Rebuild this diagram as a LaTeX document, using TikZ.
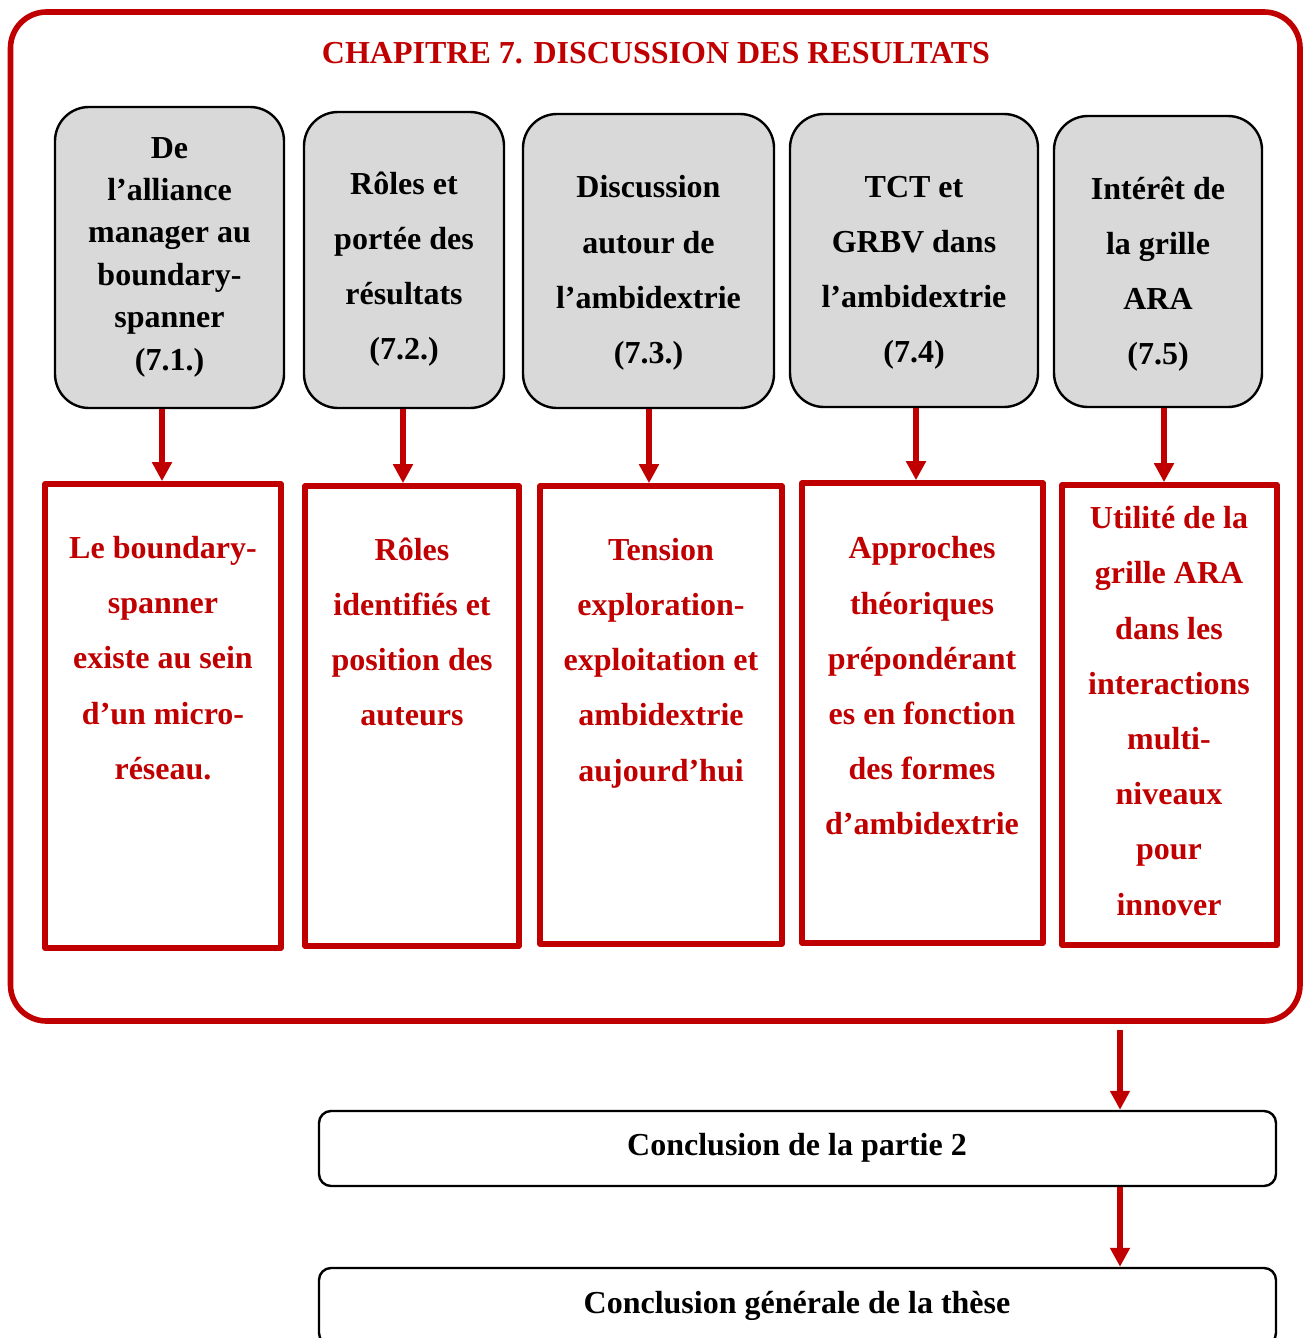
\documentclass[tikz,border=0pt]{standalone}
\usepackage{fontspec}
\setmainfont{Liberation Serif}
\usepackage{xcolor}
\usetikzlibrary{arrows.meta, positioning, calc, fit}

\definecolor{chapred}{HTML}{C00000}
\definecolor{boxgray}{HTML}{D9D9D9}

\tikzset{
  chapframe/.style={draw=chapred, line width=2.8pt, rounded corners=18pt, inner sep=0pt},
  secbox/.style={draw=black, line width=1.2pt, fill=boxgray, rounded corners=17pt, inner sep=0pt},
  resbox/.style={draw=chapred, line width=2.8pt, inner sep=0pt},
  endbox/.style={draw=black, line width=1.2pt, rounded corners=6pt, inner sep=0pt},
  sectext/.style={align=center, inner sep=0pt},
  restext/.style={align=center, inner sep=0pt, text=chapred},
  flow/.style={->, draw=chapred, line width=2.6pt, >={Triangle[length=9.5pt, width=9.5pt]}},
}

\begin{document}
\begin{tikzpicture}[x=0.5pt, y=-0.5pt, line join=round,
    font=\fontsize{16}{27.6}\selectfont\bfseries]

    \useasboundingbox (0,0) rectangle (1309,1338);

    % Chapter frame and title
    \node[chapframe, fit={(10.5,12) (1300,1021)}] (ch) {};
    \node[text=chapred, inner sep=0pt] (title) at (656,53.5) {CHAPITRE 7. DISCUSSION DES RESULTATS};

    % Sections (grey boxes)
    \foreach \i/\xa/\ya/\xb/\yb in {
        1/55/107/284/408,
        2/304/112/504/408,
        3/523/114/774/408,
        4/790/114/1038/407,
        5/1054/116/1262/407
    }{
        \node[secbox, fit={(\xa,\ya) (\xb,\yb)}] (g\i) {};
    }

    \node[sectext, font=\fontsize{16}{21.2}\selectfont\bfseries] (s1) at (169.5,257)
        {De\\l’alliance\\manager au\\boundary-\\spanner\\(7.1.)};
    \node[sectext] (s2) at (404,269) {Rôles et\\portée des\\résultats\\(7.2.)};
    \node[sectext] (s3) at (648.5,273) {Discussion\\autour de\\l’ambidextrie\\(7.3.)};
    \node[sectext] (s4) at (914,273) {TCT et\\GRBV dans\\l’ambidextrie\\(7.4)};
    \node[sectext] (s5) at (1158,274) {Intérêt de\\la grille\\ARA\\(7.5)};

    % Results (red boxes)
    \foreach \i/\xa/\ya/\xb/\yb in {
        1/45/484/281/948,
        2/305/486/519/946,
        3/540/486/782/944,
        4/802/483/1043/943,
        5/1062/485/1277/945
    }{
        \node[resbox, fit={(\xa,\ya) (\xb,\yb)}] (r\i) {};
    }

    \node[restext] (p1) at (163,658) {Le boundary-\\spanner\\existe au sein\\d’un micro-\\réseau.};
    \node[restext] (p2) at (412,632) {Rôles\\identifiés et\\position des\\auteurs};
    \node[restext] (p3) at (661,663) {Tension\\exploration-\\exploitation et\\ambidextrie\\aujourd’hui};
    \node[restext] (p4) at (922,686) {Approches\\théoriques\\prépondérant\\es en fonction\\des formes\\d’ambidextrie};
    \node[restext] (p5) at (1169,711) {Utilité de la\\grille ARA\\dans les\\interactions\\multi-\\niveaux\\pour\\innover};

    % Section -> result
    \foreach \i/\ax in {1/162, 2/403, 3/649, 4/916, 5/1164}{
        \draw[flow] (\ax,0 |- g\i.south) -- (\ax,0 |- r\i.north);
    }

    % Conclusions
    \node[endbox, fit={(319,1111) (1276,1186)}] (c1) {};
    \node[inner sep=0pt] (e1) at (797,1148) {Conclusion de la partie 2};
    \node[endbox, fit={(319,1268) (1276,1345)}] (c2) {};
    \node[inner sep=0pt] (e2) at (797,1306) {Conclusion générale de la thèse};

    \draw[flow, shorten <=3pt] (1120,0 |- ch.south) -- (1120,0 |- c1.north);
    \draw[flow] (1120,0 |- c1.south) -- (1120,0 |- c2.north);

\end{tikzpicture}
\end{document}
